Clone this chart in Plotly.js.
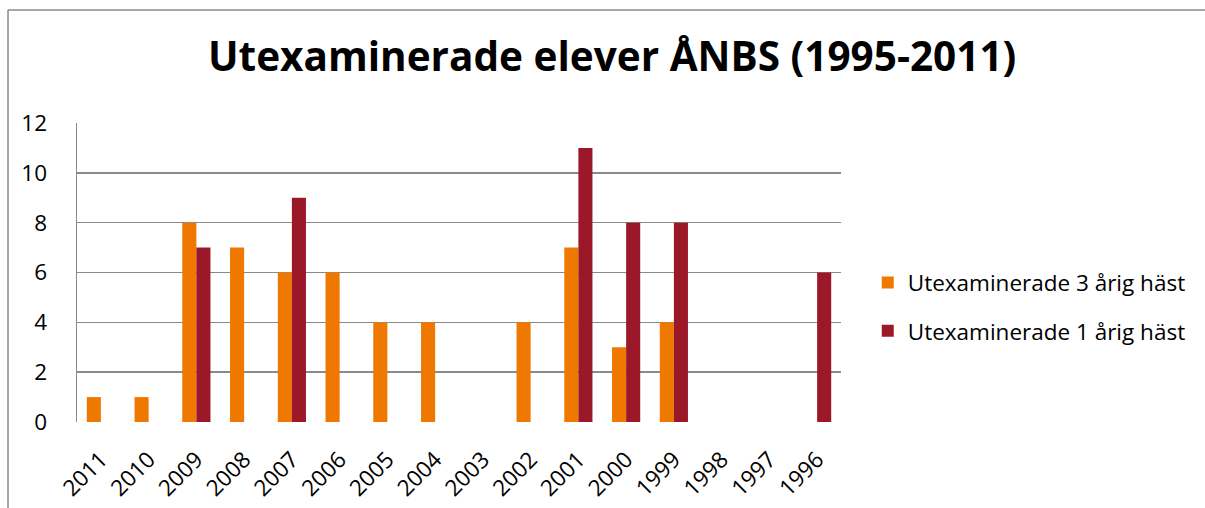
<!DOCTYPE html>
<html><head><meta charset="utf-8">
<script src="https://cdn.plot.ly/plotly-3.0.1.min.js"></script>
<style>html,body{margin:0;padding:0;background:#fff}#chart{width:1205px;height:508px}</style>
</head><body><div id="chart"></div>
<script>
const years = ['2011','2010','2009','2008','2007','2006','2005','2004','2003','2002','2001','2000','1999','1998','1997','1996'];
const treArig = [1,1,8,7,6,6,4,4,0,4,7,3,4,0,0,0];
const ettArig = [0,0,7,0,9,0,0,0,0,0,11,8,8,0,0,6];
const seriesNames = ['Utexaminerade 3 årig häst','Utexaminerade 1 årig häst'];

const font = '"Open Sans", Lato, sans-serif';
const traces = [
  {type:'bar', x:years, y:treArig, name:seriesNames[0], legendgroup:'a',
   marker:{color:'#EE7800', line:{width:0}}},
  {type:'bar', x:years, y:ettArig, name:seriesNames[1], legendgroup:'b',
   marker:{color:'#9B1829', line:{width:0}}}
];
const layout = {
  width:1205, height:508,
  margin:{l:77, r:364, t:123, b:86},
  paper_bgcolor:'#fff', plot_bgcolor:'#fff',
  barmode:'group', bargap:0.41, bargroupgap:0,
  title:{text:'<b>Utexaminerade elever ÅNBS (1995-2011)</b>', x:0.508, xanchor:'center', y:0.888, yanchor:'middle',
         font:{family:font, size:40.5, color:'#000'}},
  xaxis:{type:'category', tickangle:-45, tickfont:{family:font, size:22.5, color:'#000'},
         showline:false, showgrid:false, zeroline:false, ticks:'', ticklabelstandoff:19, automargin:false},
  yaxis:{range:[0,12], dtick:2, showgrid:true, gridcolor:'#8a8a8a', gridwidth:1.5,
         showline:true, linecolor:'#8a8a8a', linewidth:1.5, zeroline:false,
         tickfont:{family:font, size:22.5, color:'#000'}, ticks:'', ticklabelstandoff:24, automargin:false},
  legend:{x:1.035, y:0.385, xanchor:'left', yanchor:'middle', font:{family:font, size:22.5, color:'#000'},
          tracegroupgap:16, itemsizing:'constant', bgcolor:'rgba(0,0,0,0)', traceorder:'grouped', itemwidth:30},
  shapes:[
    {type:'line', xref:'paper', yref:'paper', x0:-0.0903, x1:1.6, y0:1.378, y1:1.378, line:{color:'#8a8a8a', width:1.5}},
    {type:'line', xref:'paper', yref:'paper', x0:-0.0903, x1:-0.0903, y0:1.378, y1:-0.4, line:{color:'#8a8a8a', width:1.5}}
  ]
};
Plotly.newPlot('chart', traces, layout, {staticPlot:true, displayModeBar:false});
</script></body></html>
